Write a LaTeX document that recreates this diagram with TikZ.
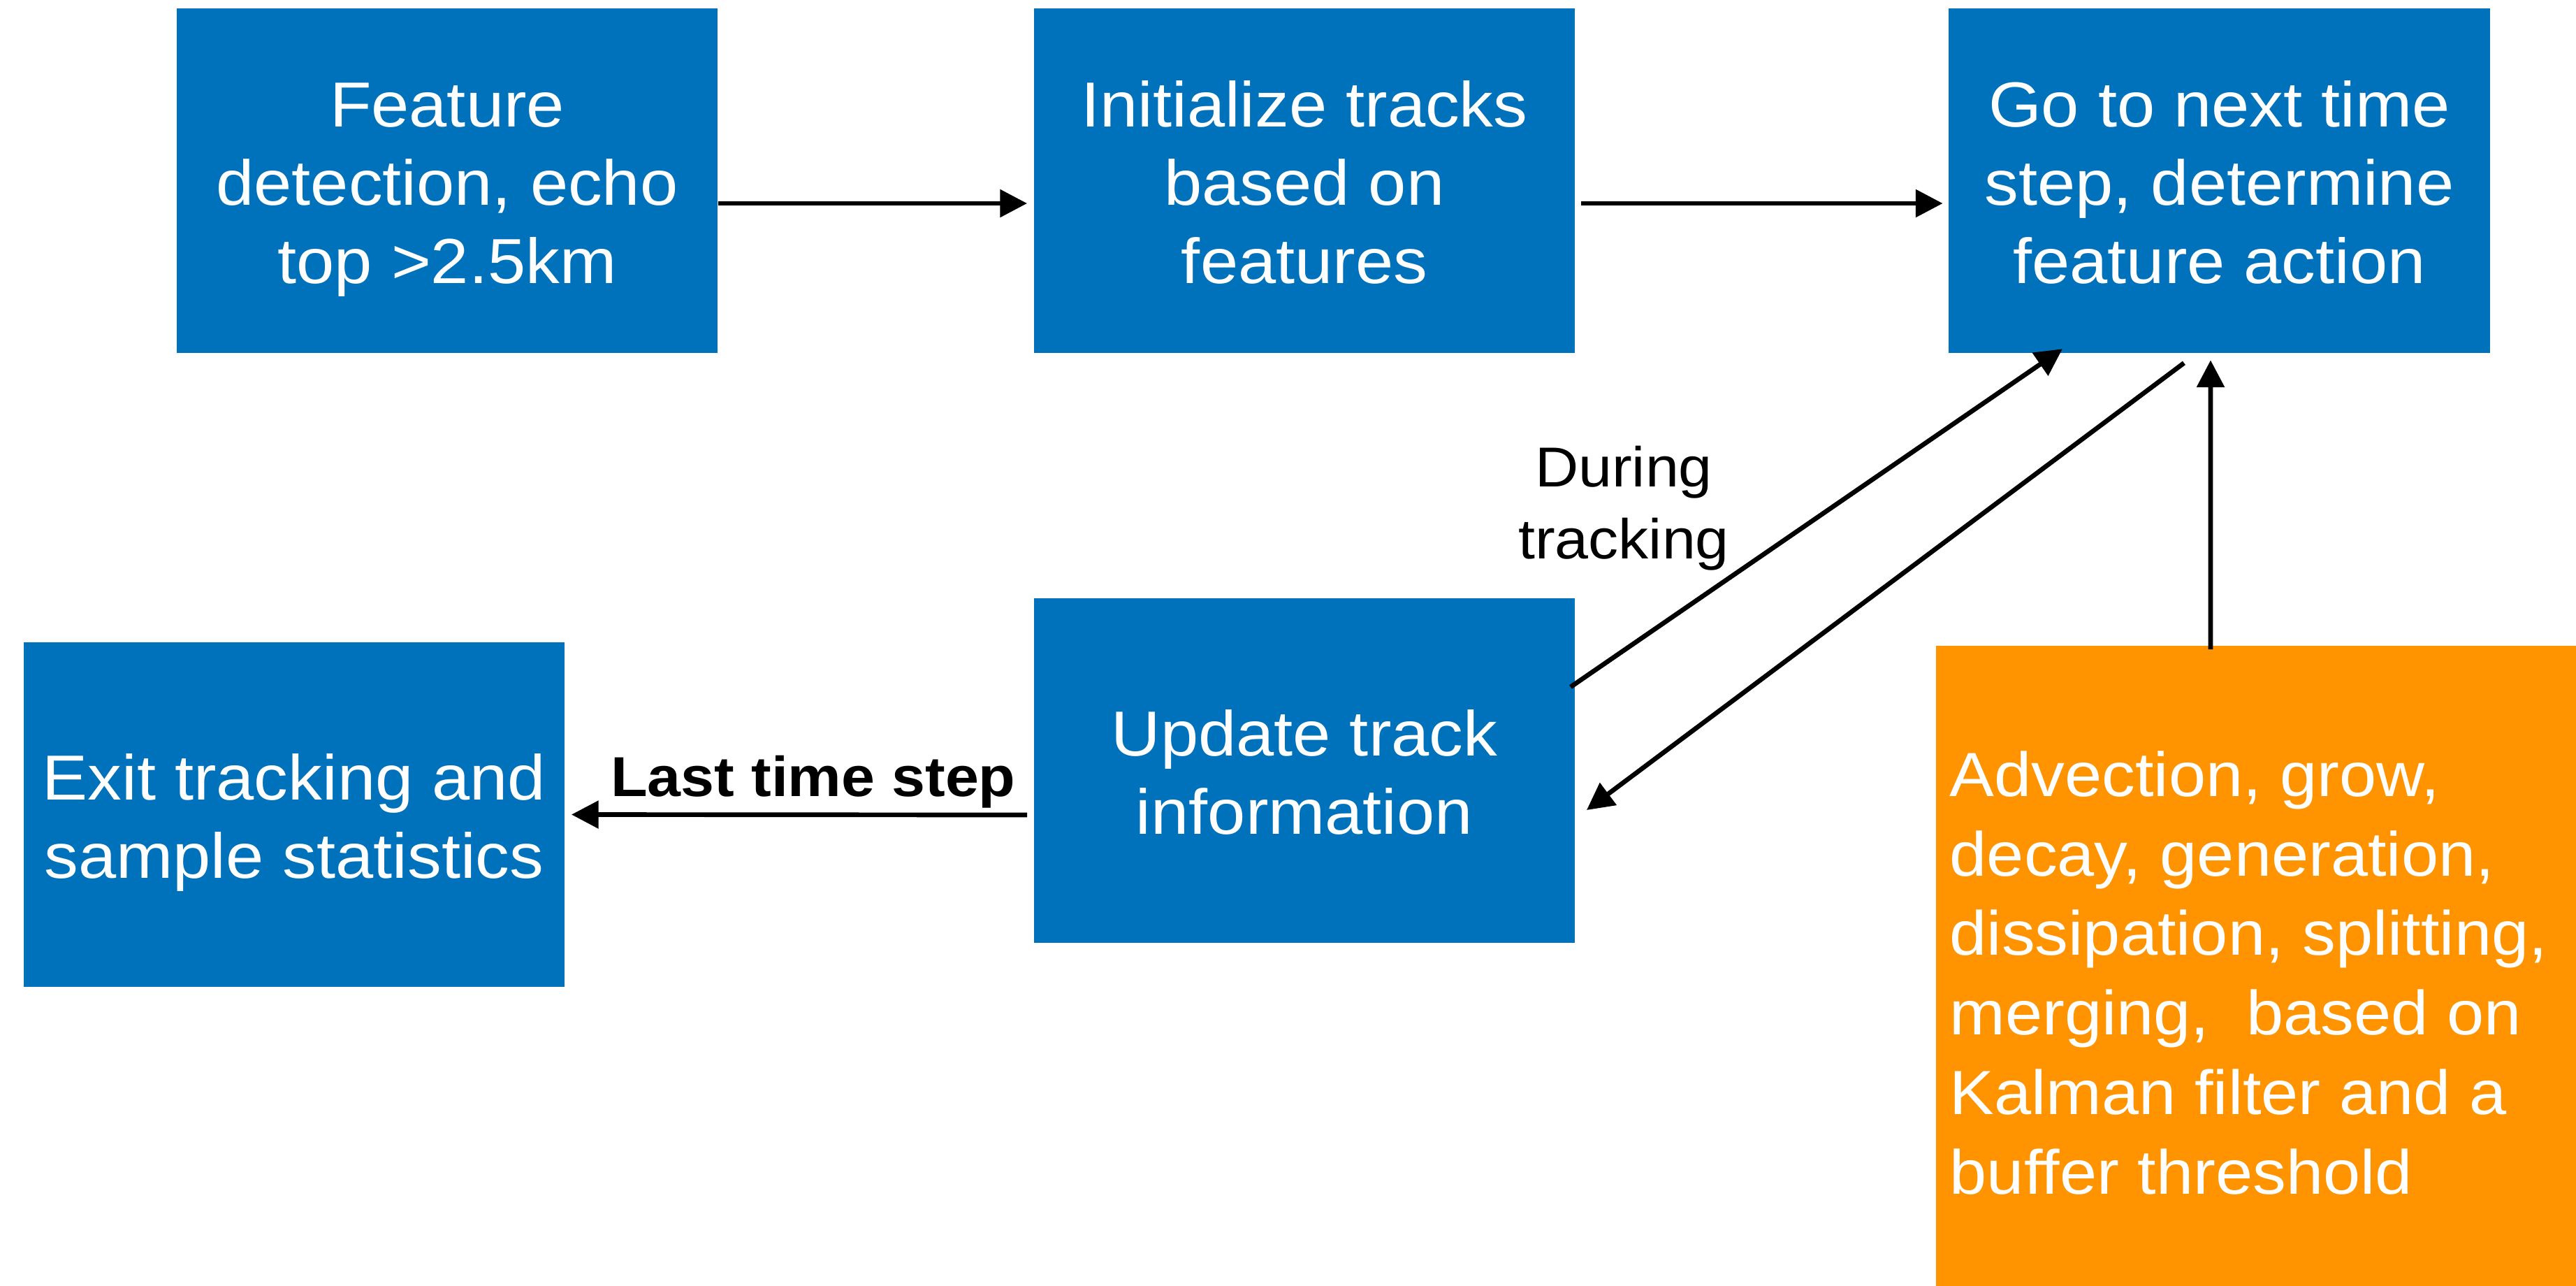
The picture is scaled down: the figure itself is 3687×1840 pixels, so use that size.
\documentclass[tikz,border=0pt]{standalone}
\usepackage{fontspec}
\setmainfont{Liberation Sans}[FakeStretch=1.07]
\usetikzlibrary{arrows.meta}
\definecolor{boxblue}{RGB}{0,114,187}
\definecolor{boxorange}{RGB}{255,147,0}
\newcommand{\mybtext}[1]{\begin{tabular}{@{}c@{}}\rule{0pt}{29.5pt}#1\end{tabular}}
\begin{document}
\begin{tikzpicture}[x=0.01cm,y=-0.01cm,
  bluebox/.style={rectangle, fill=boxblue, draw=none, minimum width=7.74cm, minimum height=4.92cm,
    inner sep=0pt, text=white, font=\fontsize{25.9}{31.9}\selectfont},
  orangebox/.style={rectangle, fill=boxorange, draw=none, minimum width=9.16cm, minimum height=9.16cm, inner sep=0pt},
  otext/.style={text=white, align=left, inner sep=0pt, font=\fontsize{25.4}{32.4}\selectfont},
  lbl/.style={text=black, align=center, inner sep=0pt, font=\fontsize{22.9}{29.3}\selectfont},
  conn/.style={line width=1.9pt, -{Triangle[length=11pt,width=11pt]}}
]
\useasboundingbox (0,0) rectangle (3687,1840);
\node[bluebox] (b1) at (640,258.5) {\mybtext{Feature\\detection, echo\\top >2.5km}};
\node[bluebox] (b2) at (1867,258.5) {\mybtext{Initialize tracks\\based on\\features}};
\node[bluebox] (b3) at (3176.5,258.5) {\mybtext{Go to next time\\step, determine\\feature action}};
\node[bluebox] (upd) at (1867,1102.5) {\mybtext{Update track\\information}};
\node[bluebox] (exit) at (421,1165.5) {\mybtext{Exit tracking and\\sample statistics}};
\node[orangebox] (orange) at (3229,1382) {};
\node[otext, anchor=west] (ortext) at ([xshift=0.2cm,yshift=-0.1cm]orange.west)
  {Advection, grow,\\decay, generation,\\dissipation, splitting,\\merging,\ \ based on\\Kalman filter and a\\buffer threshold};
\node[lbl] (during) at (2324,727) {During\\tracking};
\node[lbl, font=\fontsize{22.9}{29.3}\selectfont\bfseries] (last) at (1164,1119) {Last time step};

\draw[conn] ([yshift=-0.325cm]b1.east) -- ([xshift=-0.09cm,yshift=-0.325cm]b2.west);
\draw[conn] ([xshift=0.08cm,yshift=-0.325cm]b2.east) -- ([xshift=-0.08cm,yshift=-0.325cm]b3.west);
\draw[conn] ([xshift=-0.07cm,yshift=1.195cm]upd.east) -- ([xshift=-2.245cm,yshift=0.06cm]b3.south);
\draw[conn] ([xshift=-0.505cm,yshift=-0.14cm]b3.south) -- ([xshift=0.16cm,yshift=-0.565cm]upd.east);
\draw[conn] ([xshift=-0.65cm,yshift=-0.06cm]orange.north) -- ([xshift=-0.125cm,yshift=-0.1cm]b3.south);
\draw[conn] ([xshift=-0.09cm,yshift=-0.635cm]upd.west) -- ([xshift=0.09cm]exit.east);
\end{tikzpicture}
\end{document}
